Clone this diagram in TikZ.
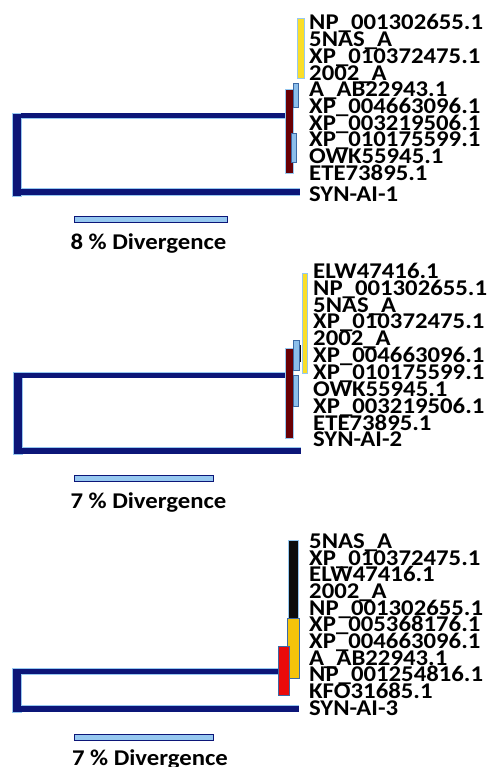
\documentclass[tikz,border=0pt]{standalone}
\usepackage{fontspec}
\setmainfont{Carlito}
\newfontfamily\labfont{Carlito}[FakeStretch=1.1]
\definecolor{navyb}{RGB}{12,22,120}
\definecolor{edgeb}{RGB}{150,200,240}
\definecolor{maroonb}{RGB}{105,0,5}
\definecolor{yellowb}{RGB}{250,222,40}
\definecolor{lbar}{RGB}{140,190,235}
\definecolor{lbaredge}{RGB}{60,105,165}
\definecolor{goldb}{RGB}{245,195,10}
\definecolor{redb}{RGB}{235,10,10}
\definecolor{blackb}{RGB}{12,12,12}
\tikzset{
  lab/.style={anchor=base west, inner sep=0pt, font=\labfont\fontsize{22.5}{22.5}\selectfont\bfseries},
  divlab/.style={anchor=base, inner sep=0pt, font=\labfont\fontsize{22.5}{22.5}\selectfont\bfseries},
  branchu/.style={line width=5pt, draw=navyb, preaction={draw=edgeb, line width=6.5pt}},
  branchl/.style={line width=6pt, draw=navyb, preaction={draw=edgeb, line width=7.5pt}},
  rootbar/.style={fill=navyb, draw=edgeb, line width=0.8pt},
  cbar/.style={draw=edgeb, line width=0.8pt},
  lbbar/.style={fill=lbar, draw=lbaredge, line width=0.8pt},
  scalebar/.style={fill=edgeb, draw=navyb, line width=0.9pt}
}
\begin{document}
\begin{tikzpicture}[x=1pt,y=-1pt]
\useasboundingbox (0,0) rectangle (491,767);
% ---------------- Panel 1 ----------------
\draw[rootbar] (12,113) rectangle (21,196);
\coordinate (a1u) at (21,116);
\coordinate (b1u) at (285.5,116);
\coordinate (a1l) at (21,192);
\coordinate (b1l) at (300,192);
\draw[branchu] (a1u) -- (b1u);
\draw[branchl] (a1l) -- (b1l);
\draw[cbar, fill=maroonb] (285,89.5) rectangle (293,173.5);
\draw[cbar, fill=yellowb] (297.5,18.5) rectangle (304,78.5);
\draw[lbbar] (293.5,83) rectangle (298.5,107.5);
\draw[lbbar] (291,133.5) rectangle (296.5,162.5);
\node[lab] (p1a) at (309,30) {NP\_001302655.1};
\node[lab] (p1b) at (309,46.7) {5NAS\_A};
\node[lab] (p1c) at (309,63.4) {XP\_010372475.1};
\node[lab] (p1d) at (309,80.1) {2002\_A};
\node[lab] (p1e) at (309,96.8) {A\_AB22943.1};
\node[lab] (p1f) at (309,113.5) {XP\_004663096.1};
\node[lab] (p1g) at (309,130.2) {XP\_003219506.1};
\node[lab] (p1h) at (309,146.9) {XP\_010175599.1};
\node[lab] (p1i) at (309,163.6) {OWK55945.1};
\node[lab] (p1j) at (309,180.3) {ETE73895.1};
\node[lab] (p1k) at (309,201.5) {SYN-AI-1};
\draw[scalebar] (74,216) rectangle (227,222);
\node[divlab] (d1) at (148.5,249.3) {8 \% Divergence};
% ---------------- Panel 2 ----------------
\draw[rootbar] (13,372.5) rectangle (22,454);
\coordinate (a2u) at (22,375);
\coordinate (b2u) at (285.5,375);
\coordinate (a2l) at (22,450.5);
\coordinate (b2l) at (301,450.5);
\draw[branchu] (a2u) -- (b2u);
\draw[branchl] (a2l) -- (b2l);
\draw[cbar, fill=maroonb] (285,348.5) rectangle (293.3,438.5);
\draw[cbar, fill=yellowb] (302,273) rectangle (307.3,373);
\draw[lbbar] (293.5,340) rectangle (299.5,370);
\draw[blackb, line width=1.5pt] (300.5,345) -- (300.5,362);
\draw[lbbar] (293,375) rectangle (298.5,406.5);
\node[lab] (p2a) at (313,278.4) {ELW47416.1};
\node[lab] (p2b) at (313,295.2) {NP\_001302655.1};
\node[lab] (p2c) at (313,312.1) {5NAS\_A};
\node[lab] (p2d) at (313,328.9) {XP\_010372475.1};
\node[lab] (p2e) at (313,345.8) {2002\_A};
\node[lab] (p2f) at (313,362.6) {XP\_004663096.1};
\node[lab] (p2g) at (313,379.4) {XP\_010175599.1};
\node[lab] (p2h) at (313,396.3) {OWK55945.1};
\node[lab] (p2i) at (313,413.1) {XP\_003219506.1};
\node[lab] (p2j) at (313,430) {ETE73895.1};
\node[lab] (p2k) at (313,446.8) {SYN-AI-2};
\draw[scalebar] (74,475.5) rectangle (213,481.5);
\node[divlab] (d2) at (148.5,508) {7 \% Divergence};
% ---------------- Panel 3 ----------------
\draw[rootbar] (12,668) rectangle (21,712);
\coordinate (a3u) at (21,671.5);
\coordinate (b3u) at (278.5,671.5);
\coordinate (a3l) at (21,708.5);
\coordinate (b3l) at (298.5,708.5);
\draw[branchu] (a3u) -- (b3u);
\draw[branchl] (a3l) -- (b3l);
\draw[cbar, fill=blackb] (288.5,540) rectangle (298.5,618.5);
\draw[cbar, fill=goldb, draw=lbaredge] (287.7,618.5) rectangle (299,678.5);
\draw[cbar, fill=redb, draw=lbaredge] (278.3,646) rectangle (289,695.5);
\node[lab] (p3a) at (309,548.3) {5NAS\_A};
\node[lab] (p3b) at (309,565) {XP\_010372475.1};
\node[lab] (p3c) at (309,581.6) {ELW47416.1};
\node[lab] (p3d) at (309,598.3) {2002\_A};
\node[lab] (p3e) at (309,615) {NP\_001302655.1};
\node[lab] (p3f) at (309,631.7) {XP\_005368176.1};
\node[lab] (p3g) at (309,648.3) {XP\_004663096.1};
\node[lab] (p3h) at (309,665) {A\_AB22943.1};
\node[lab] (p3i) at (309,681.7) {NP\_001254816.1};
\node[lab] (p3j) at (309,698.3) {KFO31685.1};
\node[lab] (p3k) at (309,715) {SYN-AI-3};
\draw[scalebar] (74,734.5) rectangle (213,740.5);
\node[divlab] (d3) at (150,765) {7 \% Divergence};
\end{tikzpicture}
\end{document}
